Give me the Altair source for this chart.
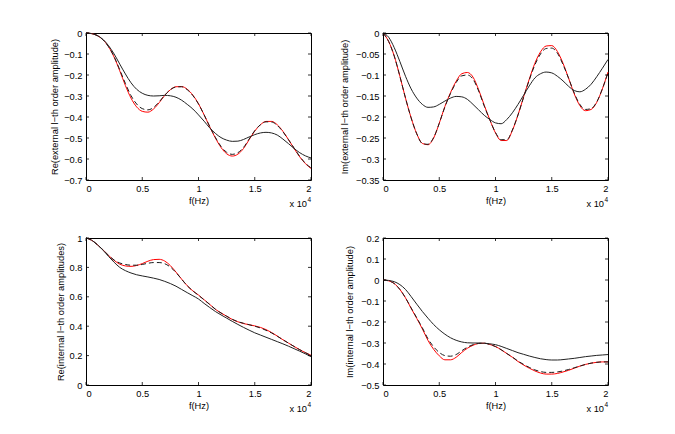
import altair as alt
import pandas as pd

# frequency grid, in units of 10^4 Hz
F = [0, .05, .1, .15, .2, .25, .3, .35, .4, .45, .5, .55, .6, .65, .7, .75, .8, .85, .9, .95,
     1.0, 1.05, 1.1, 1.15, 1.2, 1.25, 1.3, 1.35, 1.4, 1.45, 1.5, 1.55, 1.6, 1.65, 1.7, 1.75,
     1.8, 1.85, 1.9, 1.95, 2.0]

# Re(external)
re_ext_red = [0, -0.003, -0.012, -0.032, -0.065, -0.115, -0.18, -0.25, -0.31, -0.352, -0.373,
              -0.377, -0.362, -0.332, -0.297, -0.27, -0.256, -0.255, -0.268, -0.296, -0.337,
              -0.39, -0.447, -0.5, -0.545, -0.575, -0.586, -0.577, -0.55, -0.508, -0.467,
              -0.437, -0.421, -0.421, -0.437, -0.468, -0.508, -0.55, -0.59, -0.622, -0.645]
re_ext_dash = [0, -0.003, -0.012, -0.032, -0.065, -0.113, -0.175, -0.24, -0.298, -0.338, -0.36,
               -0.366, -0.355, -0.328, -0.296, -0.27, -0.257, -0.256, -0.27, -0.298, -0.338,
               -0.39, -0.445, -0.497, -0.54, -0.568, -0.578, -0.57, -0.545, -0.505, -0.465,
               -0.437, -0.423, -0.424, -0.44, -0.47, -0.508, -0.548, -0.588, -0.62, -0.642]
re_ext_black = [0, -0.003, -0.012, -0.03, -0.06, -0.1, -0.148, -0.195, -0.237, -0.268, -0.287,
                -0.297, -0.3, -0.299, -0.297, -0.299, -0.306, -0.32, -0.34, -0.362, -0.39,
                -0.42, -0.452, -0.478, -0.498, -0.51, -0.516, -0.515, -0.507, -0.495, -0.484,
                -0.476, -0.473, -0.476, -0.486, -0.505, -0.527, -0.55, -0.57, -0.585, -0.595]

# Im(external)
im_ext_red = [0, -0.02, -0.055, -0.103, -0.155, -0.202, -0.24, -0.263, -0.266, -0.25, -0.215,
              -0.175, -0.142, -0.115, -0.097, -0.094, -0.105, -0.135, -0.172, -0.207, -0.238,
              -0.256, -0.256, -0.232, -0.195, -0.152, -0.11, -0.072, -0.045, -0.031, -0.03,
              -0.044, -0.072, -0.108, -0.145, -0.173, -0.185, -0.182, -0.165, -0.133, -0.093]
im_ext_dash = [0, -0.02, -0.055, -0.103, -0.155, -0.202, -0.24, -0.263, -0.265, -0.249, -0.215,
               -0.176, -0.144, -0.118, -0.102, -0.1, -0.11, -0.138, -0.174, -0.207, -0.237,
               -0.254, -0.254, -0.231, -0.195, -0.153, -0.112, -0.076, -0.05, -0.037, -0.036,
               -0.048, -0.075, -0.108, -0.143, -0.17, -0.182, -0.18, -0.164, -0.133, -0.094]
im_ext_black = [0, -0.01, -0.035, -0.068, -0.103, -0.133, -0.155, -0.17, -0.177, -0.176, -0.17,
                -0.162, -0.155, -0.151, -0.152, -0.158, -0.17, -0.183, -0.196, -0.206, -0.214,
                -0.216, -0.206, -0.19, -0.17, -0.148, -0.126, -0.107, -0.097, -0.093, -0.095,
                -0.103, -0.114, -0.127, -0.137, -0.14, -0.134, -0.122, -0.104, -0.084, -0.063]

# Re(internal)
re_int_red = [1.0, 0.985, 0.955, 0.92, 0.882, 0.848, 0.822, 0.81, 0.807, 0.813, 0.826, 0.842,
              0.853, 0.855, 0.843, 0.812, 0.768, 0.72, 0.675, 0.64, 0.612, 0.58, 0.548, 0.515,
              0.49, 0.468, 0.446, 0.43, 0.418, 0.41, 0.402, 0.392, 0.377, 0.357, 0.333, 0.308,
              0.285, 0.262, 0.24, 0.22, 0.202]
re_int_dash = [1.0, 0.985, 0.955, 0.92, 0.882, 0.85, 0.83, 0.82, 0.815, 0.815, 0.82, 0.828,
               0.833, 0.833, 0.825, 0.802, 0.765, 0.72, 0.675, 0.64, 0.61, 0.579, 0.548, 0.516,
               0.49, 0.468, 0.447, 0.431, 0.42, 0.41, 0.4, 0.388, 0.372, 0.354, 0.332, 0.308,
               0.285, 0.262, 0.24, 0.22, 0.2]
re_int_black = [1.0, 0.985, 0.955, 0.918, 0.875, 0.835, 0.8, 0.778, 0.762, 0.75, 0.742, 0.735,
                0.727, 0.718, 0.705, 0.69, 0.672, 0.65, 0.628, 0.607, 0.585, 0.555, 0.527, 0.5,
                0.477, 0.455, 0.433, 0.412, 0.392, 0.373, 0.355, 0.34, 0.325, 0.31, 0.295, 0.28,
                0.264, 0.247, 0.23, 0.212, 0.193]

# Im(internal)
im_int_red = [0, -0.004, -0.017, -0.045, -0.085, -0.135, -0.183, -0.233, -0.288, -0.33, -0.361,
              -0.38, -0.38, -0.368, -0.345, -0.325, -0.311, -0.302, -0.301, -0.307, -0.317,
              -0.332, -0.35, -0.368, -0.388, -0.405, -0.42, -0.433, -0.443, -0.448, -0.448,
              -0.445, -0.438, -0.43, -0.42, -0.41, -0.402, -0.396, -0.392, -0.39, -0.39]
im_int_dash = [0, -0.004, -0.017, -0.045, -0.085, -0.133, -0.18, -0.228, -0.28, -0.318, -0.345,
               -0.36, -0.363, -0.355, -0.337, -0.32, -0.308, -0.302, -0.301, -0.307, -0.317,
               -0.332, -0.35, -0.367, -0.386, -0.402, -0.416, -0.428, -0.436, -0.44, -0.44,
               -0.438, -0.433, -0.426, -0.418, -0.41, -0.402, -0.396, -0.392, -0.39, -0.39]
im_int_black = [0, -0.002, -0.008, -0.022, -0.045, -0.079, -0.115, -0.15, -0.182, -0.212, -0.237,
                -0.258, -0.275, -0.287, -0.295, -0.299, -0.3, -0.3, -0.301, -0.304, -0.308,
                -0.316, -0.326, -0.336, -0.346, -0.354, -0.362, -0.369, -0.375, -0.379, -0.381,
                -0.381, -0.379, -0.376, -0.373, -0.369, -0.365, -0.362, -0.359, -0.357, -0.355]

X_TICKS = [0, 0.5, 1, 1.5, 2]
W, H = 225, 147
FONT = "Liberation Sans"
FS = 9.3
TICK = 3


def panel(red, dash, black, ydom, yticks, ytitle, tpad):
    xs = alt.Scale(domain=[0, 2], nice=False, zero=False)
    ys = alt.Scale(domain=ydom, nice=False, zero=False)
    xax = alt.Axis(values=X_TICKS, format="~g", title="f(Hz)", domain=False, ticks=False,
                   tickSize=0, grid=False, labelPadding=4, titlePadding=3,
                   labelFont=FONT, titleFont=FONT, labelFontSize=FS, titleFontSize=FS,
                   titleFontWeight="normal", labelColor="#000", titleColor="#000")
    yax = alt.Axis(values=yticks, format="~g", title=ytitle, domain=False, ticks=False,
                   tickSize=0, grid=False, labelPadding=4, titlePadding=tpad,
                   labelFont=FONT, titleFont=FONT, labelFontSize=FS, titleFontSize=FS,
                   titleFontWeight="normal", labelColor="#000", titleColor="#000")
    X = lambda fld: alt.X(fld + ":Q", scale=xs, axis=xax)
    Y = lambda fld: alt.Y(fld + ":Q", scale=ys, axis=yax)

    def line(vals, color, dashp=None):
        df = pd.DataFrame({"f": F, "v": vals})
        kw = dict(color=color, strokeWidth=1, interpolate="monotone")
        if dashp:
            kw["strokeDash"] = dashp
        return alt.Chart(df).mark_line(**kw).encode(x=X("f"), y=Y("v"))

    l_red = line(red, "#ff0000")
    l_dash = line(dash, "#1a1a1a", [5, 3])
    l_black = line(black, "#222222")

    xt = pd.DataFrame({"f": X_TICKS})
    yt = pd.DataFrame({"v": yticks})
    tk = dict(color="#000", strokeWidth=0.8)
    t_bot = alt.Chart(xt).mark_rule(**tk).encode(
        x=X("f"), y=alt.value(H), y2=alt.value(H - TICK))
    t_top = alt.Chart(xt).mark_rule(**tk).encode(
        x=X("f"), y=alt.value(0), y2=alt.value(TICK))
    t_left = alt.Chart(yt).mark_rule(**tk).encode(
        y=Y("v"), x=alt.value(0), x2=alt.value(TICK))
    t_right = alt.Chart(yt).mark_rule(**tk).encode(
        y=Y("v"), x=alt.value(W), x2=alt.value(W - TICK))

    one = pd.DataFrame({"a": [0]})
    mult = alt.Chart(one).mark_text(text="x 10", align="right", baseline="middle",
                                    font=FONT, fontSize=FS, color="#000").encode(
        x=alt.value(W - 4), y=alt.value(H + 24))
    expo = alt.Chart(one).mark_text(text="4", align="left", baseline="middle",
                                    font=FONT, fontSize=6.5, color="#000").encode(
        x=alt.value(W - 3.5), y=alt.value(H + 20))

    return alt.layer(l_red, l_dash, l_black, t_bot, t_top, t_left, t_right, mult, expo).properties(
        width=W, height=H)


p1 = panel(re_ext_red, re_ext_dash, re_ext_black, [-0.7, 0],
           [-0.7, -0.6, -0.5, -0.4, -0.3, -0.2, -0.1, 0],
           "Re(external l\u2212th order amplitude)", 4)
p2 = panel(im_ext_red, im_ext_dash, im_ext_black, [-0.35, 0],
           [-0.35, -0.3, -0.25, -0.2, -0.15, -0.1, -0.05, 0],
           "Im(external l\u2212th order amplitude)", 6)
p3 = panel(re_int_red, re_int_dash, re_int_black, [0, 1],
           [0, 0.2, 0.4, 0.6, 0.8, 1],
           "Re(internal l\u2212th order amplitudes)", 4)
p4 = panel(im_int_red, im_int_dash, im_int_black, [-0.5, 0.2],
           [-0.5, -0.4, -0.3, -0.2, -0.1, 0, 0.1, 0.2],
           "Im(internal l\u2212th order amplitude)", 6)

chart = alt.concat(p1, p2, p3, p4, columns=2, spacing={"row": 58, "column": 72},
                   bounds="flush").properties(
    padding={"left": 42, "top": 20, "right": 5, "bottom": 5},
    background="white",
).configure_view(stroke="#000", strokeWidth=1)

chart.save("out.html", embed_options={"renderer": "svg", "actions": False})
